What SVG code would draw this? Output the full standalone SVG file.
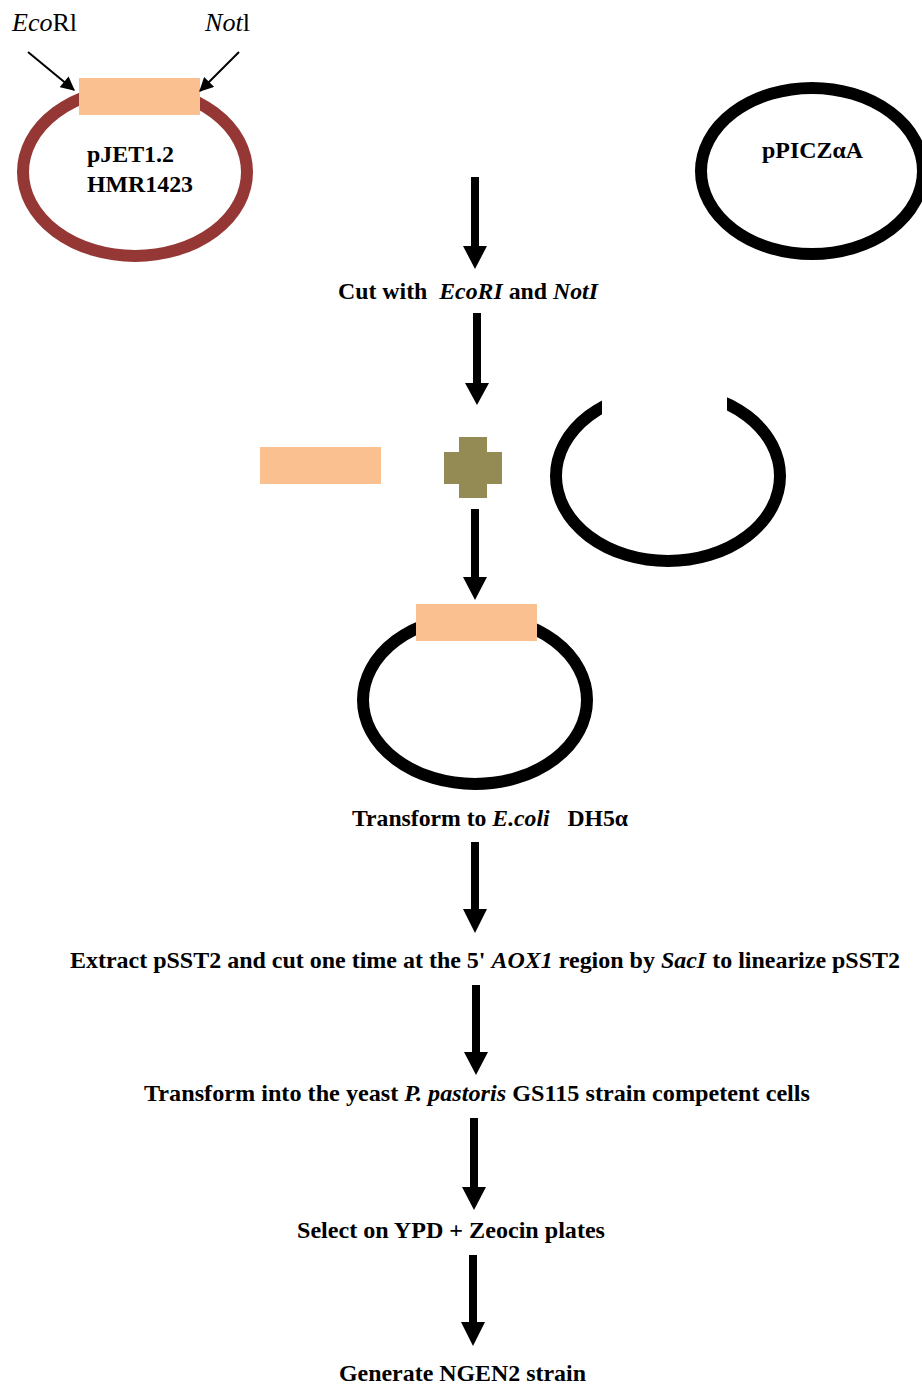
<svg xmlns="http://www.w3.org/2000/svg" width="922" height="1387" viewBox="0 0 922 1387">
<style>
.lbl{font-family:"Liberation Serif","Times New Roman",serif;font-weight:bold;font-size:24px;fill:#000;white-space:pre}
.site{font-family:"Liberation Serif","Times New Roman",serif;font-size:25px;fill:#000}
.it{font-style:italic}
.ring{fill:none;stroke:#000;stroke-width:12}
.insert{fill:#FAC090}
.big{fill:#000}
.thin{stroke:#000;stroke-width:2;fill:none;marker-end:url(#ah)}
</style>
<defs>
<marker id="ah" viewBox="0 0 12 12" refX="11" refY="6" markerWidth="7.5" markerHeight="7" orient="auto" markerUnits="strokeWidth">
<path d="M0,0 L12,6 L0,12 z" fill="#000"/>
</marker>
<clipPath id="gap">
<rect x="530" y="380" width="72" height="200"/>
<rect x="727" y="380" width="80" height="200"/>
<rect x="530" y="420" width="277" height="160"/>
</clipPath>
</defs>
<rect width="922" height="1387" fill="#fff"/>

<g id="pJET">
<ellipse cx="135" cy="172" rx="112" ry="84" fill="none" stroke="#953735" stroke-width="12"/>
<rect class="insert" x="79" y="78" width="121" height="37"/>
<text class="lbl" x="87" y="162" textLength="87" lengthAdjust="spacingAndGlyphs">pJET1.2</text>
<text class="lbl" x="87" y="192" textLength="106" lengthAdjust="spacingAndGlyphs">HMR1423</text>
</g>
<g id="ecori">
<text class="site" x="12" y="31" textLength="65" lengthAdjust="spacingAndGlyphs"><tspan class="it">Eco</tspan>Rl</text>
</g>
<g id="noti">
<text class="site" x="205" y="31" textLength="45" lengthAdjust="spacingAndGlyphs"><tspan class="it">Not</tspan>l</text>
</g>

<g id="pPICZ">
<ellipse class="ring" cx="812" cy="171" rx="111" ry="83"/>
<text class="lbl" x="762" y="158" textLength="101" lengthAdjust="spacingAndGlyphs">pPICZαA</text>
</g>

<g id="cut">
<text class="lbl" x="338" y="299" textLength="260" lengthAdjust="spacingAndGlyphs">Cut with  <tspan class="it">EcoRI</tspan> and <tspan class="it">NotI</tspan></text>
</g>

<g id="fragment">
<rect class="insert" x="260" y="447" width="121" height="37"/>
</g>
<g id="plus">
<path d="M459,437 H487 V452 H502 V484 H487 V498 H459 V484 H444 V452 H459 Z" fill="#948A54"/>
</g>
<g id="openVector">
<ellipse class="ring" cx="668" cy="476" rx="112" ry="85" clip-path="url(#gap)"/>
</g>

<g id="pSST2">
<ellipse class="ring" cx="475" cy="700" rx="112" ry="84"/>
<rect class="insert" x="416" y="604" width="121" height="37"/>
</g>

<g id="step1">
<text class="lbl" x="352" y="826" textLength="276" lengthAdjust="spacingAndGlyphs">Transform to <tspan class="it">E.coli</tspan>   DH5α</text>
</g>
<g id="step2">
<text class="lbl" x="70" y="968" textLength="830" lengthAdjust="spacingAndGlyphs">Extract pSST2 and cut one time at the 5' <tspan class="it">AOX1</tspan> region by <tspan class="it">SacI</tspan> to linearize pSST2</text>
</g>
<g id="step3">
<text class="lbl" x="144" y="1101" textLength="666" lengthAdjust="spacingAndGlyphs">Transform into the yeast <tspan class="it">P. pastoris</tspan> GS115 strain competent cells</text>
</g>
<g id="step4">
<text class="lbl" x="297" y="1238" textLength="308" lengthAdjust="spacingAndGlyphs">Select on YPD + Zeocin plates</text>
</g>
<g id="step5">
<text class="lbl" x="339" y="1381" textLength="247" lengthAdjust="spacingAndGlyphs">Generate NGEN2 strain</text>
</g>

<g id="connectors">
<line class="thin" x1="28" y1="52" x2="74" y2="90"/>
<line class="thin" x1="239" y1="52" x2="200" y2="91"/>
<polygon class="big" points="471,177 479,177 479,246 487,246 475,269 463,246 471,246"/>
<polygon class="big" points="473,313 481,313 481,383 489,383 477,405 465,383 473,383"/>
<polygon class="big" points="471,509 479,509 479,577 487,577 475,600 463,577 471,577"/>
<polygon class="big" points="471,842 479,842 479,909 487,909 475,933 463,909 471,909"/>
<polygon class="big" points="472,985 480,985 480,1052 488,1052 476,1075 464,1052 472,1052"/>
<polygon class="big" points="470,1118 478,1118 478,1187 486,1187 474,1210 462,1187 470,1187"/>
<polygon class="big" points="469,1255 477,1255 477,1322 485,1322 473,1346 461,1322 469,1322"/>
</g>
</svg>
